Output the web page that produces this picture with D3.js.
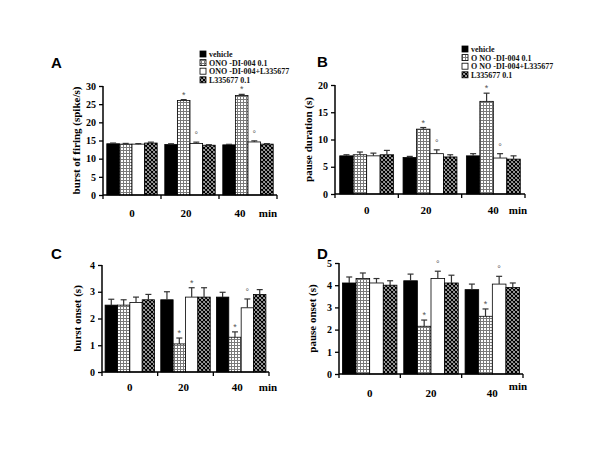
<!DOCTYPE html>
<html><head><meta charset="utf-8">
<script src="https://cdn.jsdelivr.net/npm/d3@7/dist/d3.min.js"></script>
<style>body{margin:0;background:#fff}svg{display:block}</style>
</head><body>
<svg id="c" width="600" height="450"></svg>
<script>
const groups = ["0", "20", "40"];
const seriesKeys = ["vehicle", "ono", "onoL", "L"];
const legendA = ["vehicle", "ONO -DI-004 0.1", "ONO -DI-004+L335677", "L335677 0.1"];
const legendB = ["vehicle", "O NO -DI-004 0.1", "O NO -DI-004+L335677", "L335677 0.1"];

const aVals = [[14.1, 14.0, 14.0, 14.3], [13.9, 26.0, 14.2, 13.7], [13.8, 27.4, 14.6, 14.0]];
const aErr  = [[0.2, 0.2, 0.15, 0.25], [0.2, 0.25, 0.35, 0.15], [0.15, 0.3, 0.3, 0.15]];
const aMarks = [["", "", "", ""], ["", "*", "°", ""], ["", "*", "°", ""]];

const bVals = [[7.0, 7.2, 7.0, 7.2], [6.7, 11.9, 7.4, 6.8], [7.0, 17.0, 6.6, 6.4]];
const bErr  = [[0.2, 0.5, 0.5, 0.8], [0.2, 0.3, 0.7, 0.4], [0.4, 1.5, 0.8, 0.6]];
const bMarks = [["", "", "", ""], ["", "*", "°", ""], ["", "*", "°", ""]];

const cVals = [[2.5, 2.5, 2.6, 2.7], [2.7, 1.05, 2.8, 2.8], [2.8, 1.3, 2.4, 2.9]];
const cErr  = [[0.22, 0.2, 0.2, 0.2], [0.3, 0.22, 0.35, 0.35], [0.18, 0.2, 0.33, 0.18]];
const cMarks = [["", "", "", ""], ["", "*", "*", ""], ["", "*", "°", ""]];

const dVals = [[4.1, 4.3, 4.1, 4.0], [4.2, 2.15, 4.3, 4.1], [3.8, 2.6, 4.05, 3.9]];
const dErr  = [[0.27, 0.25, 0.2, 0.2], [0.3, 0.28, 0.33, 0.35], [0.25, 0.33, 0.35, 0.2]];
const dMarks = [["", "", "", ""], ["", "*", "°", ""], ["", "*", "°", ""]];

const svg = d3.select("#c");
const defs = svg.append("defs");
const pg = defs.append("pattern").attr("id", "grid").attr("patternUnits", "userSpaceOnUse")
  .attr("width", 3).attr("height", 3);
pg.append("rect").attr("width", 3).attr("height", 3).attr("fill", "#fff");
pg.append("rect").attr("width", 3).attr("height", 1).attr("fill", "#7a7a7a");
pg.append("rect").attr("width", 1).attr("height", 3).attr("fill", "#7a7a7a");
const px = defs.append("pattern").attr("id", "cross").attr("patternUnits", "userSpaceOnUse")
  .attr("width", 4).attr("height", 4);
px.append("rect").attr("width", 4).attr("height", 4).attr("fill", "#fff");
px.append("path").attr("d", "M0,0L4,4M4,0L0,4M-1,3L1,5M3,-1L5,1M-1,1L1,-1M3,5L5,3")
  .attr("stroke", "#000").attr("stroke-width", 1.3);

const fills = {vehicle: "#000", ono: "url(#grid)", onoL: "#fff", L: "url(#cross)"};
const serif = "'Liberation Serif', 'Times New Roman', serif";

function panel(cfg) {
  const g = svg.append("g");
  const x0 = d3.scaleBand().domain(groups).range([cfg.x0, cfg.x1]).paddingInner(0).paddingOuter(0);
  const x1 = d3.scaleBand().domain(seriesKeys).range([0, x0.bandwidth()]).paddingOuter(cfg.pad).paddingInner(0);
  const y = d3.scaleLinear().domain([0, cfg.ymax]).range([cfg.yb, cfg.yt]);

  groups.forEach((grp, gi) => {
    seriesKeys.forEach((s, si) => {
      const v = cfg.vals[gi][si], e = cfg.err[gi][si];
      const bx = x0(grp) + x1(s), bw = x1.bandwidth();
      g.append("rect").attr("x", bx).attr("y", y(v)).attr("width", bw).attr("height", y(0) - y(v))
        .attr("fill", fills[s]).attr("stroke", "#000").attr("stroke-width", 0.8);
      const cx = bx + bw / 2;
      g.append("line").attr("x1", cx).attr("x2", cx).attr("y1", y(v)).attr("y2", y(v + e))
        .attr("stroke", "#333").attr("stroke-width", 1.2);
      g.append("line").attr("x1", cx - 3).attr("x2", cx + 3).attr("y1", y(v + e)).attr("y2", y(v + e))
        .attr("stroke", "#333").attr("stroke-width", 1.2);
      const m = cfg.marks[gi][si];
      if (m) {
        g.append("text").attr("x", cx).attr("y", y(v + e) - (m === "*" ? 2 : 4))
          .attr("text-anchor", "middle").attr("font-family", "'Liberation Sans', Arial, sans-serif")
          .attr("font-size", 9).attr("fill", "#555").text(m);
      }
    });
  });

  const ya = g.append("g").attr("transform", `translate(${cfg.x0},0)`)
    .call(d3.axisLeft(y).tickValues(d3.range(0, cfg.ymax + 0.001, cfg.step)).tickSize(4).tickPadding(3).tickFormat(d3.format("d")));
  ya.select(".domain").attr("stroke-width", 1.5).attr("d", `M0,${cfg.yt}V${cfg.yb}`);
  ya.selectAll(".tick line").attr("stroke-width", 1.3);
  ya.selectAll("text").attr("font-family", serif).attr("font-weight", "bold").attr("font-size", 10);

  g.append("line").attr("x1", cfg.x0).attr("x2", cfg.x1).attr("y1", y(0)).attr("y2", y(0))
    .attr("stroke", "#000").attr("stroke-width", 1.5);
  const edges = groups.map(gr => x0(gr)).concat([cfg.x1]);
  edges.forEach(ex => g.append("line").attr("x1", ex).attr("x2", ex).attr("y1", y(0)).attr("y2", y(0) + 4)
    .attr("stroke", "#000").attr("stroke-width", 1.3));
  groups.forEach((gr, gi) => {
    g.append("text").attr("x", x0(gr) + x0.bandwidth() / 2 + cfg.lblShift[gi]).attr("y", cfg.lblY)
      .attr("text-anchor", "middle").attr("font-family", serif).attr("font-weight", "bold")
      .attr("font-size", 11).text(gr);
  });
  g.append("text").attr("x", cfg.minX).attr("y", cfg.minY).attr("text-anchor", "middle")
    .attr("font-family", serif).attr("font-weight", "bold").attr("font-size", 11).text("min");

  g.append("text").attr("transform", `translate(${cfg.ylX},${(cfg.yt + cfg.yb) / 2}) rotate(-90)`)
    .attr("text-anchor", "middle").attr("font-family", serif).attr("font-weight", "bold")
    .attr("font-size", 11).text(cfg.ylabel);

  g.append("text").attr("x", cfg.letterX).attr("y", cfg.letterY).attr("font-family", "'Liberation Sans', Arial, sans-serif")
    .attr("font-weight", "bold").attr("font-size", 15).text(cfg.letter);

  if (cfg.legend) {
    cfg.legend.forEach((t, i) => {
      const ly = cfg.legY + i * 8.6;
      g.append("rect").attr("x", cfg.legX).attr("y", ly - 3).attr("width", 6).attr("height", 6)
        .attr("fill", fills[seriesKeys[i]]).attr("stroke", "#000").attr("stroke-width", 0.8);
      g.append("text").attr("x", cfg.legX + 9).attr("y", ly + 3).attr("font-family", serif)
        .attr("font-weight", "bold").attr("font-size", 8).attr("fill", "#111").text(t);
    });
  }
}

panel({letter: "A", letterX: 51, letterY: 68, x0: 103, x1: 277, yt: 86, yb: 195, ymax: 30, step: 5,
  vals: aVals, err: aErr, marks: aMarks, pad: 0.3, lblY: 217, lblShift: [0, -4, -8], minX: 268, minY: 217,
  ylabel: "burst of firing (spike/s)", ylX: 80, legend: legendA, legX: 200, legY: 54});
panel({letter: "B", letterX: 317, letterY: 67, x0: 335, x1: 525, yt: 85, yb: 194, ymax: 20, step: 5,
  vals: bVals, err: bErr, marks: bMarks, pad: 0.35, lblY: 214, lblShift: [0, -4, 0], minX: 518, minY: 214,
  ylabel: "pause duration (s)", ylX: 312, legend: legendB, legX: 462, legY: 49});
panel({letter: "C", letterX: 51, letterY: 259, x0: 102, x1: 269, yt: 265, yb: 372, ymax: 4, step: 1,
  vals: cVals, err: cErr, marks: cMarks, pad: 0.25, lblY: 391, lblShift: [0, -2, -4], minX: 268, minY: 391,
  ylabel: "burst onset (s)", ylX: 81, legend: null});
panel({letter: "D", letterX: 317, letterY: 259, x0: 339, x1: 523, yt: 263, yb: 374, ymax: 5, step: 1,
  vals: dVals, err: dErr, marks: dMarks, pad: 0.25, lblY: 397, lblShift: [0, 0, 0], minX: 518, minY: 390,
  ylabel: "pause onset (s)", ylX: 316, legend: null});
</script>
</body></html>
